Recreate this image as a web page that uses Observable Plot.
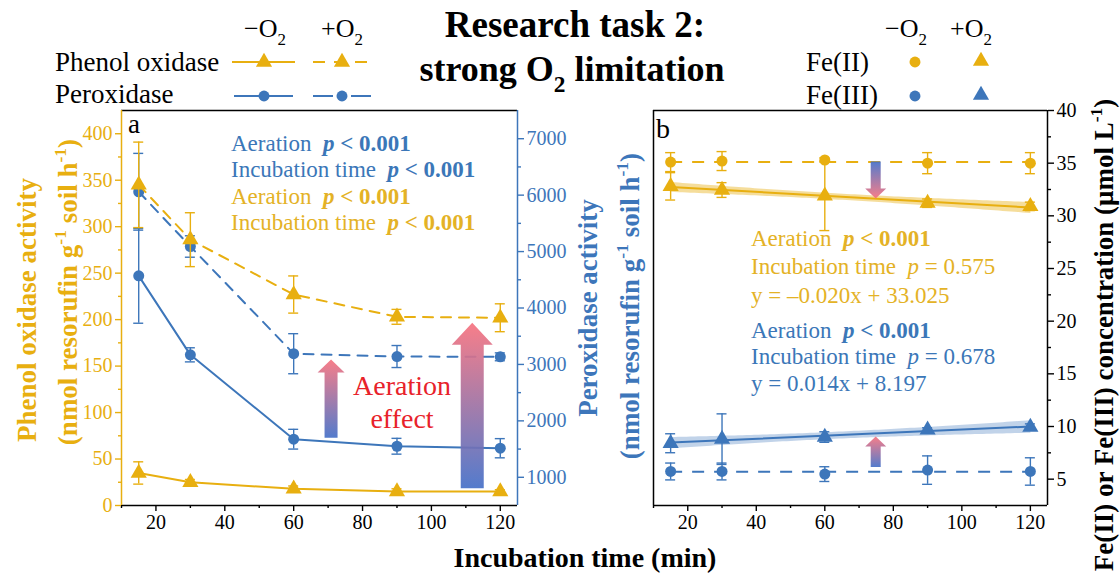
<!DOCTYPE html>
<html><head><meta charset="utf-8">
<script src="https://cdn.jsdelivr.net/npm/d3@7"></script>
<script src="https://cdn.jsdelivr.net/npm/@observablehq/plot@0.6"></script>
<style>
html,body{margin:0;padding:0;background:#fff;}
#wrap{position:relative;width:1120px;height:576px;overflow:hidden;background:#fff;}
#wrap svg{position:absolute;left:0;top:0;}
#wrap svg, #wrap svg text, #wrap svg tspan{font-family:"Liberation Serif","Times New Roman",Tinos,"DejaVu Serif",serif !important;}
</style></head><body><div id="wrap"></div>
<script>
// ---------------- DATA ----------------
const times = [15, 30, 60, 90, 120];
// Panel a – left axis (phenol oxidase)
const phenolNoO2 = [35, 25, 18, 15, 15];
const phenolNoO2Err = [12, 3, 3, 3, 2];
const phenolO2 = [345, 286, 227, 203, 202];
const phenolO2Err = [46, 29, 20, 8, 15];
// Panel a – right axis (peroxidase)
const peroxNoO2 = [4570, 3170, 1675, 1550, 1515];
const peroxNoO2Err = [840, 125, 175, 140, 170];
const peroxO2 = [6060, 5090, 3190, 3140, 3135];
const peroxO2Err = [680, 190, 355, 195, 70];
// Panel b – Fe concentrations
const fe2NoO2 = [35.1, 35.2, 35.3, 35.0, 35.0];
const fe2NoO2Err = [0.9, 0.9, 0.2, 1.0, 1.0];
const fe2O2 = [32.8, 32.45, 31.9, 31.2, 30.9];
const fe2O2Err = [1.3, 0.7, 3.3, 0.4, 0.4];
const fe3NoO2 = [5.73, 5.73, 5.48, 5.86, 5.73];
const fe3NoO2Err = [0.8, 0.8, 0.7, 1.35, 1.3];
const fe3O2 = [8.41, 8.8, 9.0, 9.68, 9.95];
const fe3O2Err = [0.9, 2.4, 0.5, 0.2, 0.3];
// Aeration-effect arrows (from −O2 level to +O2 level)
const arrowsPhenol = [{x: 112, from: 18, to: 196}];
const arrowsPerox = [{x: 71, from: 1690, to: 3080}];
const arrowsFe = [{x: 75, from: 35.1, to: 31.6}, {x: 75, from: 6.1, to: 9.0}];
// Scales and ticks
const xDomain = [10, 125];
const phenolDomain = [0, 425];
const peroxDomain = [500, 7500];
const feDomain = [2.5, 40];
const xTicks = [20, 40, 60, 80, 100, 120];
const xMinor = [10, 30, 50, 70, 90, 110];
const phenolTicks = [0, 50, 100, 150, 200, 250, 300, 350, 400];
const phenolMinor = [25, 75, 125, 175, 225, 275, 325, 375];
const peroxTicks = [1000, 2000, 3000, 4000, 5000, 6000, 7000];
const peroxMinor = [1500, 2500, 3500, 4500, 5500, 6500];
const feTicks = [5, 10, 15, 20, 25, 30, 35, 40];
const feMinor = [7.5, 12.5, 17.5, 22.5, 27.5, 32.5, 37.5];

// ---------------- STYLE ----------------
const FONT = "\"Liberation Serif\", \"Times New Roman\", Tinos, \"DejaVu Serif\", serif";
const YEL = "#E8AF10", BLU = "#3D76BA", YEL_T = "#E4B226", BLU_T = "#3B77B8";
const RED = "#E8222A", PINK = "#F7737F", ARB = "#4570C8";

const rows = (ys, es) => times.map((x, i) => ({x, y: ys[i], e: es[i]}));

function errorMarks(data, color) {
  const o = {stroke: color, strokeWidth: 1.4};
  return [
    Plot.ruleX(data, {x: "x", y1: d => d.y - d.e, y2: d => d.y + d.e, ...o}),
    Plot.ruleY(data, {x1: "x", x2: "x", y: d => d.y - d.e, insetLeft: -5, insetRight: -5, ...o}),
    Plot.ruleY(data, {x1: "x", x2: "x", y: d => d.y + d.e, insetLeft: -5, insetRight: -5, ...o})
  ];
}

function panel(marginLeft, marginRight, yDomain, marks) {
  return Plot.plot({
    width: 1120, height: 576,
    marginTop: 110, marginBottom: 71, marginLeft, marginRight,
    x: {domain: xDomain, axis: null},
    y: {domain: yDomain, axis: null},
    style: {background: "transparent", fontFamily: FONT, fontSize: "20px", overflow: "visible"},
    marks
  });
}

function axisPair(dir, anchor, ticks, minor, color) {
  const A = dir === "x" ? Plot.axisX : Plot.axisY;
  const base = {anchor, color, strokeWidth: 1.4, label: null, fontSize: 20, fontFamily: FONT, tickPadding: 3};
  return [
    A({...base, ticks, tickSize: 6, tickFormat: d => String(d)}),
    A({...base, ticks: minor, tickSize: 3, tickFormat: () => ""})
  ];
}

function addArrows(plot, arrows, shaftW, headW, headH, id) {
  const sx = plot.scale("x"), sy = plot.scale("y");
  const svg = d3.select(plot);
  const defs = svg.append("defs");
  const g = svg.append("g").attr("aria-label", "aeration effect arrows");
  arrows.forEach((a, i) => {
    const X = sx.apply(a.x), Yb = sy.apply(a.from), Yt = sy.apply(a.to);
    const s = Yb > Yt ? 1 : -1;
    const Yh = Yt + s * headH;
    const gid = id + i;
    const lg = defs.append("linearGradient").attr("id", gid).attr("gradientUnits", "userSpaceOnUse")
      .attr("x1", X).attr("x2", X).attr("y1", Yt).attr("y2", Yb);
    lg.append("stop").attr("offset", "0").attr("stop-color", PINK);
    lg.append("stop").attr("offset", "1").attr("stop-color", ARB);
    const pts = [[X - shaftW / 2, Yb], [X - shaftW / 2, Yh], [X - headW / 2, Yh], [X, Yt],
                 [X + headW / 2, Yh], [X + shaftW / 2, Yh], [X + shaftW / 2, Yb]];
    g.append("path").attr("d", "M" + pts.map(p => p.join(",")).join("L") + "Z")
      .attr("fill", `url(#${gid})`).attr("fill-opacity", 0.92);
  });
}

const wrap = document.getElementById("wrap");

// ---------- Panel a, right axis (peroxidase) ----------
const pNo = rows(peroxNoO2, peroxNoO2Err), pO = rows(peroxO2, peroxO2Err);
const plotAB = panel(121, 1120 - 517, peroxDomain, [
  Plot.ruleY([peroxDomain[1]], {stroke: "black", strokeWidth: 1.5}),
  Plot.ruleY([peroxDomain[0]], {stroke: "black", strokeWidth: 1.5}),
  Plot.ruleX([xDomain[1]], {stroke: BLU, strokeWidth: 1.5}),
  ...axisPair("x", "bottom", xTicks, xMinor, "black"),
  ...axisPair("y", "right", peroxTicks, peroxMinor, BLU),
  Plot.line(pNo, {x: "x", y: "y", stroke: BLU, strokeWidth: 2}),
  Plot.line(pO, {x: "x", y: "y", stroke: BLU, strokeWidth: 2, strokeDasharray: "10,8"}),
  ...errorMarks(pNo, BLU), ...errorMarks(pO, BLU),
  Plot.dot(pNo, {x: "x", y: "y", r: 5.5, fill: BLU}),
  Plot.dot(pO, {x: "x", y: "y", r: 5.5, fill: BLU})
]);
addArrows(plotAB, arrowsPerox, 13, 27, 13, "gPer");
wrap.appendChild(plotAB);

// ---------- Panel a, left axis (phenol oxidase) ----------
const phNo = rows(phenolNoO2, phenolNoO2Err), phO = rows(phenolO2, phenolO2Err);
const plotAY = panel(121, 1120 - 517, phenolDomain, [
  Plot.ruleX([xDomain[0]], {stroke: YEL, strokeWidth: 1.5}),
  ...axisPair("y", "left", phenolTicks, phenolMinor, YEL),
  Plot.line(phNo, {x: "x", y: "y", stroke: YEL, strokeWidth: 2}),
  Plot.line(phO, {x: "x", y: "y", stroke: YEL, strokeWidth: 2, strokeDasharray: "10,8"}),
  ...errorMarks(phNo, YEL), ...errorMarks(phO, YEL),
  Plot.dot(phNo, {x: "x", y: "y", r: 6, symbol: "triangle", fill: YEL}),
  Plot.dot(phO, {x: "x", y: "y", r: 6, symbol: "triangle", fill: YEL})
]);
addArrows(plotAY, arrowsPhenol, 23, 41, 22, "gPhe");
wrap.appendChild(plotAY);

// ---------- Panel b ----------
const f2No = rows(fe2NoO2, fe2NoO2Err), f2O = rows(fe2O2, fe2O2Err);
const f3No = rows(fe3NoO2, fe3NoO2Err), f3O = rows(fe3O2, fe3O2Err);
const t0 = () => times[0], t1 = () => times[times.length - 1];
const plotB = panel(653, 1120 - 1047, feDomain, [
  Plot.ruleY([feDomain[1]], {stroke: "black", strokeWidth: 1.5}),
  Plot.ruleY([feDomain[0]], {stroke: "black", strokeWidth: 1.5}),
  Plot.ruleX([xDomain[0]], {stroke: "black", strokeWidth: 1.5}),
  Plot.ruleX([xDomain[1]], {stroke: "black", strokeWidth: 1.5}),
  ...axisPair("x", "bottom", xTicks, xMinor, "black"),
  ...axisPair("y", "right", feTicks, feMinor, "black"),
  Plot.linearRegressionY(f2O, {x: "x", y: "y", ci: 0.99, stroke: YEL, strokeWidth: 2, fill: YEL, fillOpacity: 0.42}),
  Plot.linearRegressionY(f3O, {x: "x", y: "y", ci: 0.99, stroke: BLU, strokeWidth: 2, fill: BLU, fillOpacity: 0.32}),
  Plot.ruleY([d3.mean(fe2NoO2)], {x1: t0, x2: t1, stroke: YEL, strokeWidth: 2, strokeDasharray: "12,10"}),
  Plot.ruleY([d3.mean(fe3NoO2)], {x1: t0, x2: t1, stroke: BLU, strokeWidth: 2, strokeDasharray: "12,10"}),
  ...errorMarks(f2No, YEL), ...errorMarks(f2O, YEL),
  ...errorMarks(f3No, BLU), ...errorMarks(f3O, BLU),
  Plot.dot(f2No, {x: "x", y: "y", r: 5.5, fill: YEL}),
  Plot.dot(f2O, {x: "x", y: "y", r: 6, symbol: "triangle", fill: YEL}),
  Plot.dot(f3No, {x: "x", y: "y", r: 5.5, fill: BLU}),
  Plot.dot(f3O, {x: "x", y: "y", r: 6, symbol: "triangle", fill: BLU})
]);
addArrows(plotB, arrowsFe, 10, 21, 10, "gFe");
wrap.appendChild(plotB);

// ---------- Text overlay: titles, legends, axis titles, annotations ----------
const ov = d3.create("svg").attr("width", 1120).attr("height", 576).attr("viewBox", "0 0 1120 576")
  .attr("font-family", FONT).style("overflow", "visible");

function rich(x, y, segs, {size = 23, anchor = "start", fill = "black", weight = "normal", rotate = 0} = {}) {
  const t = ov.append("text").attr("x", x).attr("y", y).attr("font-size", size).attr("fill", fill)
    .attr("font-family", FONT)
    .attr("text-anchor", anchor).attr("font-weight", weight).style("white-space", "pre");
  if (rotate) t.attr("transform", `rotate(${rotate},${x},${y})`);
  let shift = 0;
  segs.forEach(s => {
    const o = typeof s === "string" ? {t: s} : s;
    const ts = t.append("tspan").text(o.t);
    let target = 0;
    if (o.sub) { target = 0.3 * size; ts.attr("font-size", size * 0.65); }
    if (o.sup) { target = -0.42 * size; ts.attr("font-size", size * 0.65); }
    if (target !== shift) { ts.attr("dy", target - shift); shift = target; }
    if (o.b) ts.attr("font-weight", "bold");
    if (o.i) ts.attr("font-style", "italic");
  });
  return t;
}

// Title
rich(575, 37, ["Research task 2:"], {size: 37, anchor: "middle", weight: "bold"});
rich(572, 81, ["strong O", {t: "2", sub: 1}, " limitation"], {size: 36, anchor: "middle", weight: "bold"});

// Left legend
const minusO2 = ["\u2212O", {t: "2", sub: 1}], plusO2 = ["+O", {t: "2", sub: 1}];
rich(265, 37, minusO2, {size: 26, anchor: "middle"});
rich(342, 37, plusO2, {size: 26, anchor: "middle"});
rich(55, 71, ["Phenol oxidase"], {size: 27});
rich(55, 103, ["Peroxidase"], {size: 27});
const tri = d3.symbol(d3.symbolTriangle, Math.PI * 36), cir = d3.symbol(d3.symbolCircle, Math.PI * 30);
ov.append("line").attr("x1", 232).attr("x2", 295).attr("y1", 62).attr("y2", 62).attr("stroke", YEL).attr("stroke-width", 2);
ov.append("line").attr("x1", 313).attr("x2", 370).attr("y1", 62).attr("y2", 62).attr("stroke", YEL).attr("stroke-width", 2).attr("stroke-dasharray", "12,9");
ov.append("path").attr("d", tri()).attr("transform", "translate(264,62)").attr("fill", YEL);
ov.append("path").attr("d", tri()).attr("transform", "translate(342,62)").attr("fill", YEL);
ov.append("line").attr("x1", 234).attr("x2", 293).attr("y1", 96).attr("y2", 96).attr("stroke", BLU).attr("stroke-width", 2);
ov.append("line").attr("x1", 313).attr("x2", 372).attr("y1", 96).attr("y2", 96).attr("stroke", BLU).attr("stroke-width", 2).attr("stroke-dasharray", "20,18");
ov.append("path").attr("d", cir()).attr("transform", "translate(264,96)").attr("fill", BLU);
ov.append("path").attr("d", cir()).attr("transform", "translate(342,96)").attr("fill", BLU);

// Right legend
rich(906, 37, minusO2, {size: 26, anchor: "middle"});
rich(971, 37, plusO2, {size: 26, anchor: "middle"});
rich(806, 71, ["Fe(II)"], {size: 27});
rich(806, 104, ["Fe(III)"], {size: 27});
ov.append("path").attr("d", cir()).attr("transform", "translate(915,62)").attr("fill", YEL);
ov.append("path").attr("d", tri()).attr("transform", "translate(981,61)").attr("fill", YEL);
ov.append("path").attr("d", cir()).attr("transform", "translate(915,96)").attr("fill", BLU);
ov.append("path").attr("d", tri()).attr("transform", "translate(981,95)").attr("fill", BLU);

// Axis titles
const unitsSegs = ["(nmol resorufin g", {t: "-1", sup: 1}, " soil h", {t: "-1", sup: 1}, ")"];
rich(36, 310, ["Phenol oxidase activity"], {size: 27, anchor: "middle", weight: "bold", fill: YEL, rotate: -90});
rich(77, 292, unitsSegs, {size: 27, anchor: "middle", weight: "bold", fill: YEL, rotate: -90});
rich(597, 308, ["Peroxidase activity"], {size: 27, anchor: "middle", weight: "bold", fill: BLU, rotate: -90});
rich(639, 306, unitsSegs, {size: 27, anchor: "middle", weight: "bold", fill: BLU, rotate: -90});
rich(1113, 335, ["Fe(II) or Fe(III) concentration (\u03bcmol L", {t: "-1", sup: 1}, ")"], {size: 27, anchor: "middle", weight: "bold", rotate: -90});
rich(585, 567, ["Incubation time (min)"], {size: 28, anchor: "middle", weight: "bold"});

// Panel letters
rich(128, 133, ["a"], {size: 27});
rich(656, 138, ["b"], {size: 28});

// Panel a statistics
const pLess = [{t: "p", b: 1, i: 1}, {t: " < 0.001", b: 1}];
rich(231, 151, ["Aeration  ", ...pLess], {fill: BLU_T});
rich(231, 177, ["Incubation time  ", ...pLess], {fill: BLU_T});
rich(231, 204, ["Aeration  ", ...pLess], {fill: YEL_T});
rich(231, 230, ["Incubation time  ", ...pLess], {fill: YEL_T});
rich(402, 395, ["Aeration"], {size: 28, anchor: "middle", fill: RED});
rich(402, 428, ["effect"], {size: 28, anchor: "middle", fill: RED});

// Panel b statistics
rich(751, 246, ["Aeration  ", ...pLess], {fill: YEL_T});
rich(751, 274, ["Incubation time  ", {t: "p", i: 1}, " = 0.575"], {fill: YEL_T});
rich(751, 303, ["y = \u20130.020x + 33.025"], {fill: YEL_T});
rich(751, 338, ["Aeration  ", ...pLess], {fill: BLU_T});
rich(751, 364, ["Incubation time  ", {t: "p", i: 1}, " = 0.678"], {fill: BLU_T});
rich(751, 391, ["y = 0.014x + 8.197"], {fill: BLU_T});

wrap.appendChild(ov.node());
</script></body></html>
